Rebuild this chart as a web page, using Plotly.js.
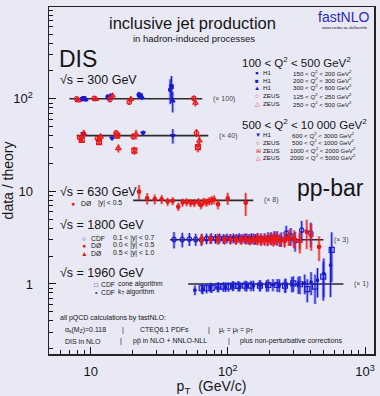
<!DOCTYPE html>
<html><head><meta charset="utf-8">
<script src="https://cdn.plot.ly/plotly-3.0.1.min.js"></script>
<style>html,body{margin:0;padding:0;background:#e9e9f5;}#chart{width:380px;height:396px;}</style>
</head><body><div id="chart"></div>
<script>
// ---------------- DATA (ratio data/theory, before scaling) ----------------
// DIS, 100 < Q2 < 500 GeV2  (x 100)
const zeusA_pt = [7.9, 10.6, 13.8, 19.1, 56.5];
const zeusA_r  = [1.00, 1.01, 0.98, 0.92, 1.01];
const zeusA_e  = [0.04, 0.04, 0.05, 0.06, 0.07];
const zeusB_pt = [8.1, 10.9, 14.4, 19.6, 58.0];
const zeusB_r  = [0.96, 0.99, 1.08, 0.99, 0.90];
const zeusB_e  = [0.05, 0.05, 0.06, 0.07, 0.08];
const h1A_pt = [8.6, 13.3, 22.4, 38.0];
const h1A_r  = [0.99, 1.05, 1.10, 1.25];
const h1A_e  = [0.05, 0.06, 0.08, 0.30];
const h1B_pt = [8.9, 13.6, 23.0, 38.8];
const h1B_r  = [1.01, 1.03, 1.08, 1.35];
const h1B_e  = [0.05, 0.06, 0.08, 0.30];
const h1C_pt = [9.2, 13.9, 23.6, 39.6];
const h1C_r  = [0.98, 1.07, 1.04, 0.95];
const h1C_e  = [0.05, 0.06, 0.07, 0.25];
// DIS, 500 < Q2 < 10000 GeV2  (x 40)
const h1D_pt = [8.8, 14.3, 24.1, 39.7];
const h1D_r  = [1.05, 0.94, 1.07, 1.00];
const h1D_e  = [0.05, 0.05, 0.06, 0.18];
const zeusC_pt = [8.3, 11.2, 15.3, 20.4, 59.0];
const zeusC_r  = [0.95, 0.93, 1.07, 0.98, 1.07];
const zeusC_e  = [0.06, 0.06, 0.07, 0.08, 0.10];
const zeusD_pt = [8.6, 11.5, 15.6, 20.8, 60.5];
const zeusD_r  = [0.90, 0.85, 1.00, 0.69, 0.75];
const zeusD_e  = [0.07, 0.07, 0.08, 0.10, 0.12];
const zeusE_pt = [8.9, 11.8, 15.9, 21.4, 62.0];
const zeusE_r  = [1.05, 0.97, 0.73, 1.03, 0.88];
const zeusE_e  = [0.10, 0.09, 0.10, 0.12, 0.15];
// pp-bar 630 GeV, D0 |y|<0.5  (x 8)
const d0630_pt = [22.5, 25.8, 29.3, 32.9, 36.4, 39.6, 43.5, 46.8, 50.1, 53.6, 56.9, 60.9, 63.7, 66.9, 70.0, 73.2, 76.2, 79.2, 84.7, 99.7, 134.9];
const d0630_r  = [1.24, 1.05, 1.03, 1.025, 0.97, 0.985, 0.855, 0.95, 0.96, 0.94, 0.94, 0.96, 0.89, 0.97, 0.95, 0.985, 1.00, 1.02, 0.91, 1.05, 0.94];
const d0630_e  = [0.18, 0.14, 0.12, 0.11, 0.10, 0.10, 0.10, 0.10, 0.10, 0.10, 0.10, 0.10, 0.10, 0.10, 0.10, 0.10, 0.11, 0.11, 0.12, 0.15, 0.28];
// pp-bar 1800 GeV  (x 3)
const cdf1800_pt = [40.5, 46.5, 52.4, 58.3, 64.1, 69.9, 75.6, 81.3, 87.0, 92.7, 98.3, 104.0, 109.6, 115.2, 120.7, 126.3, 131.8, 137.3, 142.8, 148.3, 153.8, 159.2, 164.7, 174.2, 185.1, 196.0, 206.9, 217.7, 228.6, 244.8, 266.2, 287.6, 308.8, 345.2, 402.5];
const cdf1800_r  = [1.01, 1.01, 1.02, 1.01, 1.00, 1.03, 1.04, 1.03, 1.04, 1.03, 1.04, 1.03, 1.04, 1.03, 1.05, 1.03, 1.04, 1.03, 1.02, 1.04, 1.03, 1.02, 1.04, 1.03, 1.02, 1.05, 1.04, 1.06, 1.05, 1.02, 1.18, 1.10, 0.98, 1.27, 1.18];
const cdf1800_e  = [0.20, 0.18, 0.16, 0.15, 0.14, 0.13, 0.13, 0.12, 0.12, 0.12, 0.12, 0.12, 0.12, 0.12, 0.12, 0.12, 0.12, 0.13, 0.13, 0.13, 0.13, 0.13, 0.14, 0.14, 0.15, 0.15, 0.16, 0.17, 0.18, 0.18, 0.20, 0.22, 0.24, 0.26, 0.30];
const d0c1800_pt = [64.6, 74.7, 84.7, 94.7, 104.7, 114.6, 124.6, 134.6, 144.6, 154.6, 164.5, 174.5, 184.5, 194.5, 204.4, 214.4, 224.4, 239.1, 259.1, 279.1, 303.8, 333.8, 375.8, 461.8];
const d0c1800_r  = [1.00, 1.02, 0.99, 1.01, 1.00, 0.99, 1.01, 1.00, 0.98, 1.00, 0.99, 0.97, 1.00, 0.98, 1.01, 0.97, 1.02, 0.98, 0.97, 1.02, 1.00, 0.98, 1.22, 0.84];
const d0c1800_e  = [0.12, 0.11, 0.11, 0.11, 0.11, 0.11, 0.11, 0.11, 0.11, 0.11, 0.12, 0.12, 0.12, 0.12, 0.13, 0.13, 0.13, 0.14, 0.15, 0.16, 0.18, 0.20, 0.35, 0.30];
const d0f1800_pt = [64.6, 74.6, 84.6, 94.6, 104.6, 114.6, 124.6, 134.6, 144.6, 154.6, 164.6, 174.6, 184.6, 194.6, 204.5, 214.5, 224.5, 239.2, 259.2, 279.2, 304.1, 334.5, 404.4];
const d0f1800_r  = [1.03, 1.02, 1.04, 1.01, 1.03, 1.02, 1.00, 1.04, 1.01, 1.02, 1.05, 1.01, 1.03, 0.99, 1.04, 1.02, 1.06, 1.00, 1.03, 1.08, 1.04, 0.96, 1.12];
const d0f1800_e  = [0.13, 0.12, 0.12, 0.12, 0.12, 0.12, 0.12, 0.12, 0.12, 0.13, 0.13, 0.13, 0.13, 0.14, 0.14, 0.15, 0.15, 0.16, 0.17, 0.19, 0.22, 0.26, 0.32];
// pp-bar 1960 GeV  (x 1)
const cdfCone_pt = [64.4, 70.0, 76.2, 85.1, 92.6, 100.7, 109.4, 119.0, 133.3, 147.3, 171.3, 196.9, 229.0, 260.7, 299.7, 335.0, 379.0, 431.5, 495.6, 571.0];
const cdfCone_r  = [0.90, 0.90, 0.91, 0.935, 0.935, 0.935, 0.96, 0.955, 0.96, 0.96, 0.96, 0.975, 0.975, 0.96, 1.017, 0.993, 0.88, 0.935, 1.20, 2.33];
const cdfCone_e  = [0.12, 0.12, 0.12, 0.12, 0.12, 0.12, 0.12, 0.13, 0.13, 0.13, 0.14, 0.15, 0.16, 0.17, 0.19, 0.22, 0.28, 0.35, 0.45, 0.55];
const cdfKt_pt = [57.5, 65.5, 74.5, 84.5, 96.0, 108.5, 122.0, 137.0, 153.5, 171.5, 191.5, 213.0, 237.0, 263.5, 293.0, 326.0, 363.0, 404.0, 450.0, 500.0, 560.0];
const cdfKt_r  = [0.86, 0.88, 0.92, 0.92, 0.93, 0.95, 0.94, 0.95, 0.96, 0.97, 0.96, 0.98, 0.97, 0.98, 1.00, 0.99, 1.02, 1.05, 1.10, 1.30, 1.60];
const cdfKt_e  = [0.12, 0.12, 0.12, 0.12, 0.12, 0.12, 0.12, 0.13, 0.13, 0.13, 0.14, 0.15, 0.16, 0.17, 0.19, 0.21, 0.24, 0.28, 0.35, 0.45, 0.55];
// reference lines for each group
const groupScale = [100, 40, 8, 3, 1];
const groupPtMin = [7.0, 7.9, 20.4, 37.9, 51.3];
const groupPtMax = [65, 72, 153, 497, 695];
const groupLabel = ['(\u00d7 100)', '(\u00d7 40)', '(\u00d7 8)', '(\u00d7 3)', '(\u00d7 1)'];

// ---------------- STYLE ----------------
const F = 'Liberation Sans, Arial, Helvetica, sans-serif';
const BLUE = '#1818d0', RED = '#e81818';
const BLUE_L = 'rgba(50,50,235,0.38)', RED_L = 'rgba(245,40,40,0.38)';
const INK = '#151515';

const series = [
  {pt:cdf1800_pt, r:cdf1800_r, e:cdf1800_e, s:3, sym:'circle-open', c:BLUE, l:BLUE_L, size:4.5, name:'CDF 1800'},
  {pt:d0c1800_pt, r:d0c1800_r, e:d0c1800_e, s:3, sym:'circle', c:RED, l:RED_L, size:3.5, name:'D0 1800 central'},
  {pt:d0f1800_pt, r:d0f1800_r, e:d0f1800_e, s:3, sym:'triangle-up', c:RED, l:RED_L, size:4, name:'D0 1800 forward'},
  {pt:cdfCone_pt, r:cdfCone_r, e:cdfCone_e, s:1, sym:'square-open', c:BLUE, l:BLUE_L, size:5, name:'CDF cone'},
  {pt:cdfKt_pt, r:cdfKt_r, e:cdfKt_e, s:1, sym:'circle', c:BLUE, l:BLUE_L, size:2.5, name:'CDF kT'},
  {pt:d0630_pt, r:d0630_r, e:d0630_e, s:8, sym:'circle', c:RED, l:RED_L, size:3.5, name:'D0 630'},
  {pt:h1A_pt, r:h1A_r, e:h1A_e, s:100, sym:'circle', c:BLUE, l:BLUE_L, size:3.5, name:'H1 150-200'},
  {pt:h1B_pt, r:h1B_r, e:h1B_e, s:100, sym:'square', c:BLUE, l:BLUE_L, size:3.5, name:'H1 200-300'},
  {pt:h1C_pt, r:h1C_r, e:h1C_e, s:100, sym:'triangle-up', c:BLUE, l:BLUE_L, size:4, name:'H1 300-600'},
  {pt:zeusA_pt, r:zeusA_r, e:zeusA_e, s:100, sym:'circle-open', c:RED, l:RED_L, size:4.5, name:'ZEUS 125-250'},
  {pt:zeusB_pt, r:zeusB_r, e:zeusB_e, s:100, sym:'triangle-up-open', c:RED, l:RED_L, size:5, name:'ZEUS 250-500'},
  {pt:h1D_pt, r:h1D_r, e:h1D_e, s:40, sym:'triangle-down', c:BLUE, l:BLUE_L, size:4, name:'H1 600-3000'},
  {pt:zeusC_pt, r:zeusC_r, e:zeusC_e, s:40, sym:'circle-open', c:RED, l:RED_L, size:4.5, name:'ZEUS 500-1000'},
  {pt:zeusD_pt, r:zeusD_r, e:zeusD_e, s:40, sym:'square-x-open', c:RED, l:RED_L, size:5, name:'ZEUS 1000-2000'},
  {pt:zeusE_pt, r:zeusE_r, e:zeusE_e, s:40, sym:'triangle-up-open', c:RED, l:RED_L, size:5, name:'ZEUS 2000-5000'}
];

const traces = [];
groupScale.forEach((s, i) => {
  traces.push({x:[groupPtMin[i], groupPtMax[i]], y:[s, s], mode:'lines',
    line:{color:'#2a2a2a', width:1.6}, hoverinfo:'skip', showlegend:false});
});
series.forEach(d => {
  const y = d.r.map(v => v * d.s);
  const err = d.r.map((v, i) => v * d.s * d.e[i]);
  traces.push({x:d.pt, y:y, mode:'markers', marker:{size:1, opacity:0},
    error_y:{type:'data', symmetric:true, array:err, color:d.l, thickness:3, width:0},
    hoverinfo:'skip', showlegend:false});
  traces.push({x:d.pt, y:y, mode:'markers', name:d.name,
    marker:{symbol:d.sym, size:d.size, color:d.c, line:{color:d.c, width:1.2}},
    error_y:{type:'data', symmetric:true, array:err, color:d.c, thickness:1, width:0},
    showlegend:false});
});

// ---------------- LAYOUT ----------------
const XLO = 0.696, XHI = 3.065, YLO = -0.756, YHI = 2.991;
function minorVals(lo, hi) {
  const out = [];
  for (let k = Math.floor(lo) - 1; k <= Math.ceil(hi); k++)
    for (let d = 2; d <= 9; d++) {
      const v = d * Math.pow(10, k), l = Math.log10(v);
      if (l > lo && l < hi) out.push(v);
    }
  return out;
}
const L = 49, R = 374, T = 7, B = 354;
function A(text, px, py, size, o) {
  return Object.assign({xref:'paper', yref:'paper', x:(px - L) / (R - L), y:(B - py) / (B - T),
    text:text, showarrow:false, xanchor:'left', yanchor:'middle', borderpad:0,
    font:{family:F, size:size, color:INK}}, o || {});
}
const ann = [];
ann.push(A('inclusive jet production', 192, 23, 16.5, {xanchor:'center'}));
ann.push(A('in hadron-induced processes', 194, 39, 9.5, {xanchor:'center'}));
ann.push(A('fastNLO', 343.5, 17, 14, {xanchor:'center', font:{family:F, size:14, color:'#2b2bbd'}}));
ann.push(A('www.cedar.ac.uk/fastnlo', 344.5, 28, 4.2, {xanchor:'center'}));
ann.push(A('DIS', 58, 59, 23));
ann.push(A('\u221As = 300 GeV', 59, 80, 12.5));
ann.push(A('pp-bar', 296, 188, 23));
ann.push(A('\u221As = 630 GeV', 59, 192, 12.5));
ann.push(A('\u221As = 1800 GeV', 59, 225, 12.5));
ann.push(A('\u221As = 1960 GeV', 59, 273, 12.5));

// DIS legends
ann.push(A('100 < Q<sup>2</sup> < 500 GeV<sup>2</sup>', 241, 62, 11.5));
ann.push(A('500 < Q<sup>2</sup> < 10 000 GeV<sup>2</sup>', 241, 123.5, 11.5));
const LS = 6.2;
function legRow(glyph, col, name, rng, py, gx, nx, rx, fs) {
  ann.push(A('<span style="color:' + col + '">' + glyph + '</span>', gx, py, fs || LS, {xanchor:'center'}));
  ann.push(A(name, nx, py, fs || LS));
  ann.push(A(rng, rx, py, fs || LS));
}
const q = (a, b) => a + ' < Q<sup>2</sup> < ' + b + ' GeV<sup>2</sup>';
legRow('\u25CF', BLUE, 'H1', q(150, 200), 72.5, 257, 262, 292);
legRow('\u25A0', BLUE, 'H1', q(200, 300), 80, 257, 262, 292);
legRow('\u25B2', BLUE, 'H1', q(300, 600), 87.5, 257, 262, 292);
legRow('\u25CB', RED, 'ZEUS', q(125, 250), 96, 257, 262, 292);
legRow('\u25B3', RED, 'ZEUS', q(250, 500), 103.5, 257, 262, 292);
legRow('\u25BC', BLUE, 'H1', q(600, 3000), 134.5, 258, 262, 291);
legRow('\u25CB', RED, 'ZEUS', q(500, 1000), 142, 258, 262, 291);
legRow('\u229E', RED, 'ZEUS', q(1000, 2000), 150, 258, 262, 289);
legRow('\u25B3', RED, 'ZEUS', q(2000, 5000), 157.5, 258, 262, 289);
// pp legends
legRow('\u25CF', RED, 'D\u00D8', '|y| < 0.5', 203, 73, 80, 97, 6.8);
legRow('\u25CB', BLUE, 'CDF', '0.1 < |y| < 0.7', 238, 84, 90, 112, 6.8);
legRow('\u25CF', RED, 'D\u00D8', '0.0 < |y| < 0.5', 245.5, 84, 90, 112, 6.8);
legRow('\u25B2', RED, 'D\u00D8', '0.5 < |y| < 1.0', 253, 84, 90, 112, 6.8);
legRow('\u25A1', BLUE, 'CDF', 'cone algorithm', 284, 96, 100, 117, 6.8);
legRow('\u2022', BLUE, 'CDF', 'k<sub>T</sub> algorithm', 292, 96, 100, 117, 6.8);

// footnote
const FN = 7;
ann.push(A('all pQCD calculations by fastNLO:', 59, 318, FN));
ann.push(A('\u03B1<sub>s</sub>(M<sub>Z</sub>)=0.118', 64, 330, FN));
ann.push(A('|', 121, 330, FN));
ann.push(A('CTEQ6.1 PDFs', 139, 330, FN));
ann.push(A('|', 207, 330, FN));
ann.push(A('\u03BC<sub>r</sub> = \u03BC<sub>f</sub> = p<sub>T</sub>', 218, 330, FN));
ann.push(A('DIS in NLO', 64, 341, FN));
ann.push(A('|', 119, 341, FN));
ann.push(A('pp\u0304 in NLO + NNLO-NLL', 132, 341, FN));
ann.push(A('|', 227, 341, FN));
ann.push(A('plus non-perturbative corrections', 239, 341, FN));

// scale labels next to the reference lines
groupScale.forEach((s, i) => {
  ann.push({xref:'x', yref:'y', x:Math.log10(groupPtMax[i]), y:Math.log10(s), xshift:9,
    text:groupLabel[i], showarrow:false, xanchor:'left', yanchor:'middle',
    font:{family:F, size:7, color:'#444'}});
});

const layout = {
  width:380, height:396,
  margin:{l:L, r:380 - R, t:T, b:396 - B, pad:0},
  paper_bgcolor:'#e9e9f5', plot_bgcolor:'#e9e9f5',
  showlegend:false,
  font:{family:F, color:INK},
  xaxis:{type:'log', range:[XLO, XHI], tickmode:'array', tickvals:[10, 100, 1000],
    ticktext:['10', '10<sup>2</sup>', '10<sup>3</sup>'], ticks:'inside', ticklen:7, tickwidth:1,
    tickcolor:INK, showline:true, linecolor:'#222', linewidth:1.5, mirror:true,
    showgrid:false, zeroline:false, ticklabelstandoff:5,
    tickfont:{family:F, size:13, color:INK},
    minor:{tickmode:'array', tickvals:minorVals(XLO, XHI), ticks:'inside', ticklen:4, tickcolor:INK, showgrid:false},
    title:{text:'p<sub>T</sub>  (GeV/c)', font:{family:F, size:14, color:INK}, standoff:8}},
  yaxis:{type:'log', range:[YLO, YHI], tickmode:'array', tickvals:[1, 10, 100],
    ticktext:['1', '10', '10<sup>2</sup>'], ticks:'inside', ticklen:7, tickwidth:1,
    tickcolor:INK, showline:true, linecolor:'#222', linewidth:1.5, mirror:true,
    showgrid:false, zeroline:false, ticklabelstandoff:12,
    tickfont:{family:F, size:13, color:INK},
    minor:{tickmode:'array', tickvals:minorVals(YLO, YHI), ticks:'inside', ticklen:4, tickcolor:INK, showgrid:false},
    title:{text:'data / theory', font:{family:F, size:14, color:INK}, standoff:4}},
  annotations:ann
};
Plotly.newPlot('chart', traces, layout, {displayModeBar:false, staticPlot:true});
</script>
</body></html>
